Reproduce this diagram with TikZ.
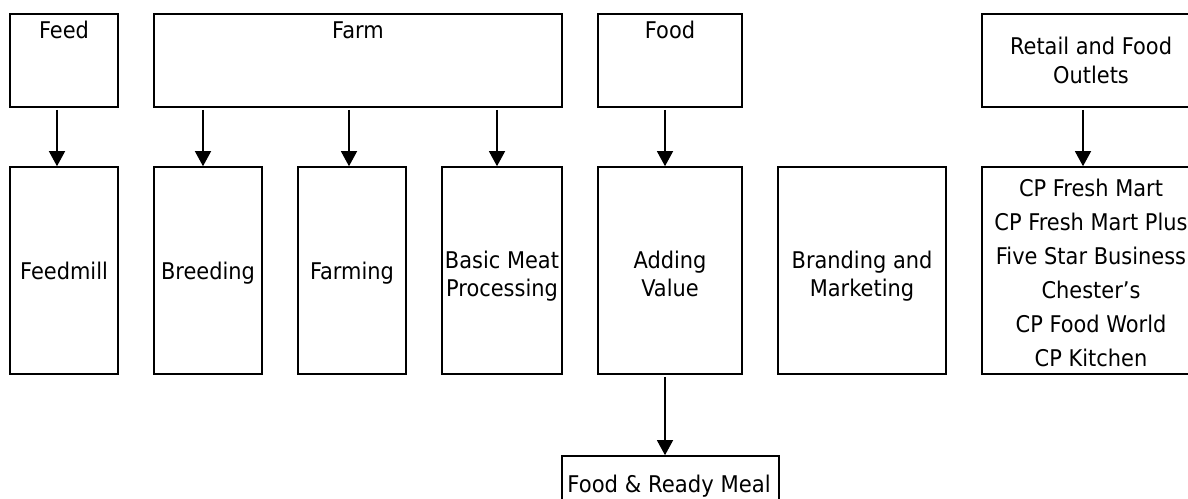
\documentclass[tikz,border=0pt]{standalone}
\usepackage{fontspec}
\setmainfont{DejaVu Sans}[FakeStretch=0.91]
\newfontfamily\readyfont{DejaVu Sans}[FakeStretch=0.92]
\usetikzlibrary{arrows.meta}
\begin{document}
\begin{tikzpicture}[x=0.5pt,y=-0.5pt,
  topbox/.style={draw, line width=0.8pt, inner sep=0pt, minimum height=46.5pt},
  box/.style={draw, line width=0.8pt, inner sep=0pt, minimum height=103.5pt},
  lbl/.style={anchor=base, inner sep=0pt, align=center, font=\fontsize{11.5}{14.15}\selectfont},
  arr/.style={line width=0.65pt, -{Triangle[width=8pt,length=7.5pt]}, shorten <=1pt}
]
\useasboundingbox (0,0) rectangle (1188,498);
\clip (0,0) rectangle (1188,498);
\fill[white] (0,0) rectangle (1188,498);

% top row
\node[topbox, minimum width=54pt] (feed) at (64,60.5) {};
\node[topbox, minimum width=204pt] (farm) at (358,60.5) {};
\node[topbox, minimum width=72pt] (food) at (670,60.5) {};
\node[topbox, minimum width=109pt] (retail) at (1091,60.5) {};

% bottom row
\node[box, minimum width=54pt] (feedmill) at (64,270.5) {};
\node[box, minimum width=54pt] (breeding) at (208,270.5) {};
\node[box, minimum width=54pt] (farming) at (352,270.5) {};
\node[box, minimum width=60pt] (basic) at (502,270.5) {};
\node[box, minimum width=72pt] (adding) at (670,270.5) {};
\node[box, minimum width=84pt] (branding) at (862,270.5) {};
\node[box, minimum width=109pt] (outlets) at (1091,270.5) {};

% ready meal
\node[draw, line width=0.8pt, inner sep=0pt, minimum width=108.5pt, minimum height=32pt] (ready) at (670.5,488) {};

% texts (anchor base = baseline of the last line)
\node[lbl] (feedt) at (64,39) {Feed};
\node[lbl] (farmt) at (358,39) {Farm};
\node[lbl] (foodt) at (670,39) {Food};
\node[lbl] (retailt) at (1091,83) {Retail and Food\\Outlets};
\node[lbl] (feedmillt) at (64,279) {Feedmill};
\node[lbl] (breedingt) at (208,279) {Breeding};
\node[lbl] (farmingt) at (352,279) {Farming};
\node[lbl] (basict) at (502,296.7) {Basic Meat\\Processing};
\node[lbl] (addingt) at (670,296.7) {Adding\\Value};
\node[lbl] (brandingt) at (862,296.7) {Branding and\\Marketing};
\node[lbl, font=\fontsize{11.5}{17}\selectfont] (outletst) at (1091,366.7)
  {CP Fresh Mart\\CP Fresh Mart Plus\\Five Star Business\\Chester’s\\CP Food World\\CP Kitchen};
\node[lbl, font=\readyfont\fontsize{11.5}{14}\selectfont] (readyt) at (669,492) {Food \& Ready Meal};

% arrow x positions
\coordinate (c1) at (57,0);
\coordinate (c2) at (203,0);
\coordinate (c3) at (349,0);
\coordinate (c4) at (497,0);
\coordinate (c5) at (665,0);
\coordinate (c6) at (1083,0);

\draw[arr] (feed.south -| c1) -- (feedmill.north -| c1);
\draw[arr] (farm.south -| c2) -- (breeding.north -| c2);
\draw[arr] (farm.south -| c3) -- (farming.north -| c3);
\draw[arr] (farm.south -| c4) -- (basic.north -| c4);
\draw[arr] (food.south -| c5) -- (adding.north -| c5);
\draw[arr] (retail.south -| c6) -- (outlets.north -| c6);
\draw[arr] (adding.south -| c5) -- (ready.north -| c5);
\end{tikzpicture}
\end{document}
